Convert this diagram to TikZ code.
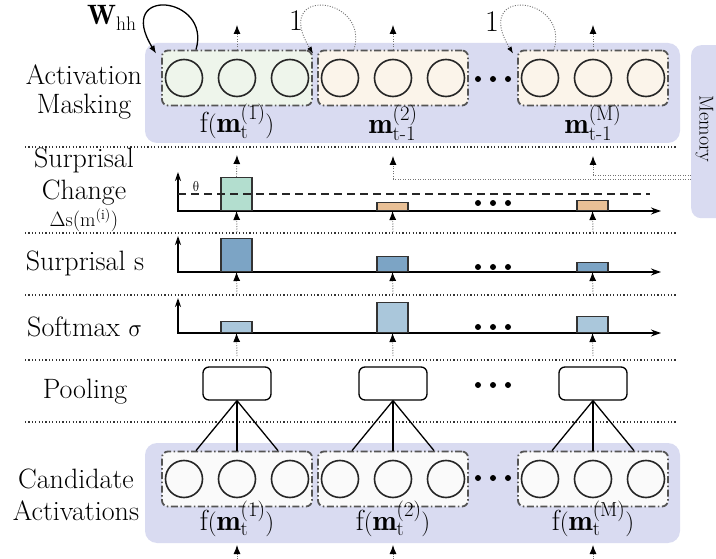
\documentclass[tikz,border=0pt]{standalone}
\usepackage{fontspec}
\usetikzlibrary{arrows.meta,calc}
\definecolor{panelc}{RGB}{217,219,241}
\definecolor{grpgreen}{RGB}{238,245,235}
\definecolor{grppeach}{RGB}{251,244,234}
\definecolor{grpwhite}{RGB}{250,250,250}
\definecolor{barg}{RGB}{179,222,207}
\definecolor{barp}{RGB}{233,192,150}
\definecolor{bars}{RGB}{124,164,197}
\definecolor{barl}{RGB}{170,199,219}
\definecolor{grpline}{RGB}{85,85,85}
\newcommand{\tmone}{\mathrm{t}\mathchar"002D 1}
\tikzset{
  panelbox/.style={fill=panelc, rounded corners=12pt, minimum width=535pt, minimum height=100pt, inner sep=0pt},
  membox/.style={fill=panelc, rounded corners=10pt, minimum width=50pt, minimum height=173pt, inner sep=0pt},
  memtext/.style={rotate=-90, font=\fontsize{20}{24}\selectfont, inner sep=0pt},
  grpbox/.style={draw=grpline, line width=1.8pt, dash pattern=on 7pt off 2.5pt on 1.5pt off 2.5pt, rounded corners=6pt, minimum width=150pt, minimum height=55pt, inner sep=0pt},
  cell/.style={circle, draw=black!85, line width=1.6pt, minimum size=37pt, inner sep=0pt},
  rowlabel/.style={font=\fontsize{28}{32}\selectfont, inner sep=0pt, anchor=base},
  grplabel/.style={font=\fontsize{29}{33}\selectfont, inner sep=0pt, anchor=base},
  upgreek/.style={inner sep=0pt, xslant=-0.22},
  sep/.style={line width=1.2pt, dash pattern=on 1.2pt off 2.2pt, black!80},
  flow/.style={line width=0.9pt, dash pattern=on 1pt off 1.5pt, black!55, -{Latex[length=9pt,width=7pt,black]}},
  axisline/.style={line width=1.3pt, {Stealth[length=9pt,width=6pt]}-{Stealth[length=10pt,width=7pt]}},
  barbox/.style={draw=black!80, line width=1.1pt, minimum width=31pt, inner sep=0pt, anchor=south},
  poolbox/.style={draw=black, line width=1.3pt, rounded corners=6pt, minimum width=68pt, minimum height=33pt, inner sep=0pt},
  poolline/.style={line width=1.3pt, black},
  dotmark/.style={circle, fill=black, inner sep=0pt, minimum size=6pt},
  loopW/.style={line width=1.3pt, black, -{Latex[length=8pt,width=6pt]}},
  loopone/.style={line width=0.9pt, dash pattern=on 1pt off 1.5pt, black!55, -{Latex[length=7pt,width=5pt,black]}},
  thetaline/.style={line width=1.1pt, dash pattern=on 8pt off 5pt, black!85},
}
\begin{document}
\begin{tikzpicture}[x=1pt,y=-1pt]
\useasboundingbox (0,0) rectangle (716,559);
% panels
\node[panelbox] (toppanel) at (412.5,93) {};
\node[panelbox] (candpanel) at (412.5,493) {};
\node[membox, anchor=north west] (mem) at (691,45) {};
\node[memtext] (memlabel) at (704.5,129) {Memory};

% separators
\foreach \n/\y in {1/147,2/233,3/295,4/360,5/422}{
  \coordinate (sL\n) at (25,\y);
  \coordinate (sR\n) at (677,\y);
  \draw[sep] (sL\n) -- (sR\n);
}

% row labels
\node[rowlabel] (la1) at (84,85) {Activation};
\node[rowlabel] (la2) at (84,114) {Masking};
\node[rowlabel] (lb1) at (84,168) {Surprisal};
\node[rowlabel] (lb2) at (84,200) {Change};
\node[rowlabel, font=\fontsize{20}{24}\selectfont] (lb3) at (84,227) {$\Delta\mathrm{s}(\mathrm{m}^{(\mathrm{i})})$};
\node[rowlabel] (lc) at (85,271) {Surprisal s};
\node[rowlabel, anchor=base west] (ld) at (27,337) {Softmax};
\node[upgreek, anchor=base west, font=\fontsize{28}{32}\selectfont] (ldsig) at ($(ld.base east)+(9,0)$) {$\sigma$};
\node[rowlabel] (le) at (85,398) {Pooling};
\node[rowlabel] (lf1) at (76,488) {Candidate};
\node[rowlabel] (lf2) at (76,520) {Activations};

% top groups
\node[grpbox, fill=grpgreen] (g1) at (237,78) {};
\node[grpbox, fill=grppeach] (g2) at (393,78) {};
\node[grpbox, fill=grppeach] (g3) at (593,78) {};
% candidate groups
\node[grpbox, fill=grpwhite] (h1) at (237,479) {};
\node[grpbox, fill=grpwhite] (h2) at (393,479) {};
\node[grpbox, fill=grpwhite] (h3) at (593,479) {};
\foreach \g in {g1,g2,g3,h1,h2,h3}{
  \foreach \k/\dx in {1/-53,2/0,3/53}{
    \node[cell] (\g c\k) at ($(\g)+(\dx,0)$) {};
  }
}
% dots between groups
\foreach \k/\x in {1/478,2/493,3/508}{
  \node[dotmark] (dA\k) at (\x,79) {};
  \node[dotmark] (dH\k) at (\x,478) {};
  \node[dotmark] (dB\k) at (\x,203) {};
  \node[dotmark] (dC\k) at (\x,267) {};
  \node[dotmark] (dD\k) at (\x,327) {};
  \node[dotmark] (dE\k) at (\x,385) {};
}

% group labels
\node[grplabel] (gl1) at (237,133) {$\mathrm{f}(\mathbf{m}_{\mathrm{t}}^{(1)})$};
\node[grplabel] (gl2) at (393,134) {$\mathbf{m}_{\tmone}^{(2)}$};
\node[grplabel] (gl3) at (593,134) {$\mathbf{m}_{\tmone}^{(\mathrm{M})}$};
\node[grplabel] (hl1) at (237,530) {$\mathrm{f}(\mathbf{m}_{\mathrm{t}}^{(1)})$};
\node[grplabel] (hl2) at (393,530) {$\mathrm{f}(\mathbf{m}_{\mathrm{t}}^{(2)})$};
\node[grplabel] (hl3) at (593,530) {$\mathrm{f}(\mathbf{m}_{\mathrm{t}}^{(\mathrm{M})})$};

% recurrent loops
\node[inner sep=0pt, anchor=base west, font=\fontsize{28}{32}\selectfont] (whh) at (87,25) {$\mathbf{W}_{\mathrm{hh}}$};
\draw[loopW] ($(g1.north)+(-41,0)$) .. controls +(16,-54) and +(-42,-68) .. ($(g1.north west)+(-5,4)$);
\node[inner sep=0pt, anchor=base, font=\fontsize{30}{34}\selectfont] (one2) at (296,31) {1};
\draw[loopone] ($(g2.north)+(-39,0)$) .. controls +(16,-54) and +(-42,-68) .. ($(g2.north west)+(-4,4)$);
\node[inner sep=0pt, anchor=base, font=\fontsize{30}{34}\selectfont] (one3) at (492,32) {1};
\draw[loopone] ($(g3.north)+(-39,0)$) .. controls +(16,-54) and +(-42,-68) .. ($(g3.north west)+(-4,4)$);

% outputs of top groups
\foreach \g/\x in {g1/237,g2/393,g3/593}{
  \coordinate (\g out) at (\x,25);
  \draw[flow] (\g.north) -- (\g out);
}

% axes
\foreach \r/\top/\base in {1/172/211,2/236/272,3/298/333}{
  \coordinate (ax\r t) at (178,\top);
  \coordinate (ax\r o) at (178,\base);
  \coordinate (ax\r e) at (661,\base);
  \draw[axisline] (ax\r t) -- (ax\r o) -- (ax\r e);
}

% bars: surprisal change
\node[barbox, fill=barg, minimum height=33pt] (b11) at (236.5,211) {};
\node[barbox, fill=barp, minimum height=8pt] (b12) at (392.5,211) {};
\node[barbox, fill=barp, minimum height=10pt] (b13) at (592.5,211) {};
\draw[thetaline] (178,194) -- (650,194);
\node[upgreek, anchor=base, font=\fontsize{15}{17}\selectfont] (theta) at (197,192) {$\theta$};
% bars: surprisal
\node[barbox, fill=bars, minimum height=33pt] (b21) at (236.5,272) {};
\node[barbox, fill=bars, minimum height=15pt] (b22) at (392.5,272) {};
\node[barbox, fill=bars, minimum height=9pt] (b23) at (592.5,272) {};
% bars: softmax
\node[barbox, fill=barl, minimum height=11pt] (b31) at (236.5,333) {};
\node[barbox, fill=barl, minimum height=30pt] (b32) at (392.5,333) {};
\node[barbox, fill=barl, minimum height=16pt] (b33) at (592.5,333) {};

% pooling boxes
\node[poolbox] (p1) at (237,383.5) {};
\node[poolbox] (p2) at (393,383.5) {};
\node[poolbox] (p3) at (593,383.5) {};

% pooling connections
\foreach \i in {1,2,3}{
  \draw[poolline] (p\i.south) -- ($(h\i.north)+(-41,0)$);
  \draw[poolline] (p\i.south) -- (h\i.north);
  \draw[poolline] (p\i.south) -- ($(h\i.north)+(41,0)$);
}

% flow arrows between rows
\foreach \i/\x in {1/237,2/393,3/593}{
  \coordinate (in\i) at (\x,559);
  \draw[flow] (in\i) -- (\x,545);
  \coordinate (s4\i) at (\x,356);
  \draw[flow] (s4\i) -- (b3\i.south);
  \coordinate (s3\i) at (\x,294);
  \draw[flow] (s3\i) -- (b2\i.south);
  \coordinate (s2\i) at (\x,232);
  \draw[flow] (s2\i) -- (b1\i.south);
}
\coordinate (up1) at (237,155);
\draw[flow] (b11.north) -- (up1);
% memory read-outs
\coordinate (memA) at (691,175);
\coordinate (memB) at (691,179);
\coordinate (up3) at (593,156);
\coordinate (up2) at (393,156);
\draw[flow] (memA) -- (593,175) -- (up3);
\draw[flow] (memB) -- (393,179) -- (up2);
\end{tikzpicture}
\end{document}
